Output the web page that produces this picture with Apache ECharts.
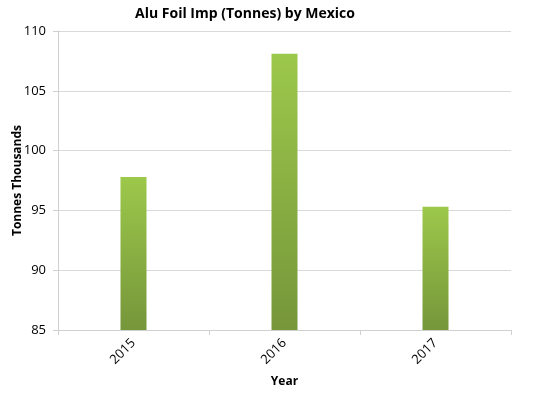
<!DOCTYPE html>
<html><head><meta charset="utf-8">
<script src="https://cdn.jsdelivr.net/npm/echarts@6/dist/echarts.min.js"></script>
<style>html,body{margin:0;padding:0;background:#fff}#c{width:544px;height:396px}</style>
</head><body><div id="c"></div>
<script>
const categories = ['2015', '2016', '2017'];
const values = [97.8, 108.1, 95.3];
const yTicks = [85, 90, 95, 100, 105, 110];

const chart = echarts.init(document.getElementById('c'), null, {renderer: 'canvas'});
const font = '"Open Sans", "Noto Sans", sans-serif';
chart.setOption({
  animation: false,
  backgroundColor: '#fff',
  title: {
    text: 'Alu Foil Imp (Tonnes) by Mexico',
    left: 240, top: 2, textAlign: 'center',
    textStyle: {fontFamily: font, fontWeight: 'bold', fontSize: 14, color: '#000'}
  },
  grid: {left: 58, right: 33, top: 31, bottom: 66, containLabel: false, outerBoundsMode: 'none'},
  xAxis: {
    type: 'category', data: categories,
    name: 'Year', nameLocation: 'middle', nameGap: 46, nameMoveOverlap: false,
    nameTextStyle: {fontFamily: font, fontWeight: 'bold', fontSize: 12, color: '#000'},
    axisLine: {lineStyle: {color: '#d0d0d0'}},
    axisTick: {show: true, alignWithLabel: false, length: 5, lineStyle: {color: '#d0d0d0'}},
    axisLabel: {rotate: 45, fontFamily: font, fontSize: 13, color: '#000', margin: 11}
  },
  yAxis: {
    type: 'value', min: yTicks[0], max: yTicks[yTicks.length - 1], interval: 5,
    name: 'Tonnes Thousands', nameLocation: 'middle', nameGap: 34, nameMoveOverlap: false,
    nameTextStyle: {fontFamily: font, fontWeight: 'bold', fontSize: 12, color: '#000'},
    axisLine: {show: true, lineStyle: {color: '#d0d0d0'}},
    axisTick: {show: true, length: 5, lineStyle: {color: '#d0d0d0'}},
    axisLabel: {fontFamily: font, fontSize: 13, color: '#000', margin: 12},
    splitLine: {lineStyle: {color: '#d9d9d9'}}
  },
  series: [{
    type: 'bar', data: values, barWidth: 26,
    itemStyle: {color: new echarts.graphic.LinearGradient(0, 0, 0, 1, [
      {offset: 0, color: '#9cc84b'},
      {offset: 1, color: '#76963a'}
    ])}
  }]
});
</script></body></html>
